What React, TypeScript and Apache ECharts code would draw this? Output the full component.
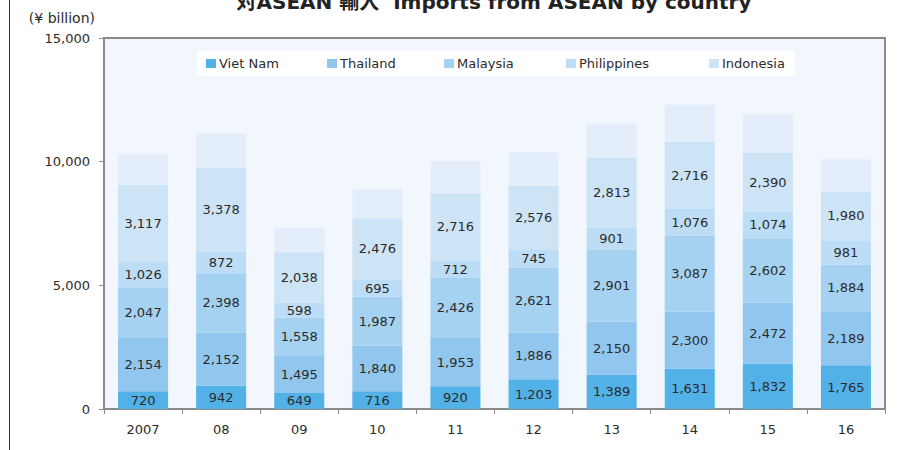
import React, { useEffect, useRef } from "react";
import * as echarts from "echarts";

const years = ["2007", "08", "09", "10", "11", "12", "13", "14", "15", "16"];
const vietNam = [720, 942, 649, 716, 920, 1203, 1389, 1631, 1832, 1765];
const thailand = [2154, 2152, 1495, 1840, 1953, 1886, 2150, 2300, 2472, 2189];
const malaysia = [2047, 2398, 1558, 1987, 2426, 2621, 2901, 3087, 2602, 1884];
const philippines = [1026, 872, 598, 695, 712, 745, 901, 1076, 1074, 981];
const indonesia = [3117, 3378, 2038, 2476, 2716, 2576, 2813, 2716, 2390, 1980];
const others = [1230, 1400, 990, 1180, 1285, 1340, 1385, 1490, 1530, 1295];

const seriesNames = ["Viet Nam", "Thailand", "Malaysia", "Philippines", "Indonesia"];
const colors = ["#52b1e6", "#91c7ef", "#a6d2f2", "#bddcf5", "#cde3f6", "#e3eefa"];
const legendLefts = [206, 327, 444, 566, 709];

const FONT = "DejaVu Sans, Verdana, sans-serif";

export default function App() {
  const ref = useRef<HTMLDivElement>(null);
  useEffect(() => {
    if (!ref.current) return;
    const chart = echarts.init(ref.current, null, { renderer: "svg" });
    const data = [vietNam, thailand, malaysia, philippines, indonesia];
    const fmt = (v: number) => v.toLocaleString("en-US");
    const series: any[] = data.map((d, i) => ({
      name: seriesNames[i],
      type: "bar",
      stack: "total",
      barWidth: 50,
      data: d,
      itemStyle: { color: colors[i] },
      label: {
        show: true,
        position: "inside",
        color: "#2b2b2b",
        fontFamily: FONT,
        fontSize: 13,
        formatter: (p: any) => fmt(p.value),
      },
    }));
    series.push({
      name: "Others",
      type: "bar",
      stack: "total",
      barWidth: 50,
      data: others,
      itemStyle: { color: colors[5] },
      label: { show: false },
    });
    chart.setOption({
      animation: false,
      textStyle: { fontFamily: FONT },
      grid: {
        left: 104,
        right: 18,
        top: 38,
        bottom: 41,
        show: true,
        backgroundColor: "#f2f6fd",
        borderColor: "#8a8a8a",
        borderWidth: 2,
      },
      legend: seriesNames.map((n, i) => ({
        data: [n],
        left: legendLefts[i],
        top: 57,
        icon: "rect",
        itemWidth: 10,
        itemHeight: 9,
        padding: 0,
        selectedMode: false,
        textStyle: { fontFamily: FONT, fontSize: 13, color: "#2b2b2b", padding: [0, 0, 0, -2] },
        z: 5,
      })),
      xAxis: {
        type: "category",
        data: years,
        axisLine: { lineStyle: { color: "#8a8a8a", width: 2 } },
        axisTick: { show: true, length: 5, lineStyle: { color: "#8a8a8a" } },
        axisLabel: { color: "#2b2b2b", fontSize: 13, fontFamily: FONT, margin: 14 },
      },
      yAxis: {
        type: "value",
        min: 0,
        max: 15000,
        interval: 5000,
        splitLine: { show: false },
        axisLine: { show: true, lineStyle: { color: "#8a8a8a", width: 2 } },
        axisTick: { show: true, length: 5, lineStyle: { color: "#8a8a8a" } },
        axisLabel: {
          color: "#2b2b2b",
          fontSize: 13,
          fontFamily: FONT,
          margin: 14,
          formatter: (v: number) => fmt(v),
        },
      },
      graphic: [
        {
          type: "rect",
          shape: { x: 197, y: 51, width: 598, height: 25 },
          style: { fill: "#ffffff" },
          z: 3,
        },
        {
          type: "line",
          shape: { x1: 9.5, y1: 0, x2: 9.5, y2: 450 },
          style: { stroke: "#333", lineWidth: 1 },
        },
        {
          type: "text",
          x: 494,
          y: -8,
          style: {
            text: "対ASEAN 輸入  Imports from ASEAN by country",
            fontFamily: "DejaVu Sans, Noto Sans CJK JP, sans-serif",
            fontWeight: "bold",
            fontSize: 20,
            fill: "#222",
            textAlign: "center",
            textVerticalAlign: "top",
          },
        },
        {
          type: "text",
          x: 95,
          y: 11,
          style: {
            text: "(¥ billion)",
            fontFamily: FONT,
            fontSize: 14,
            fill: "#2b2b2b",
            textAlign: "right",
            textVerticalAlign: "top",
          },
        },
      ],
      series,
    });
    return () => chart.dispose();
  }, []);
  return (
    <div style={{ position: "fixed", left: 0, top: 0, width: 903, height: 450, background: "#fff" }}>
      <div ref={ref} style={{ width: 903, height: 450 }} />
    </div>
  );
}
